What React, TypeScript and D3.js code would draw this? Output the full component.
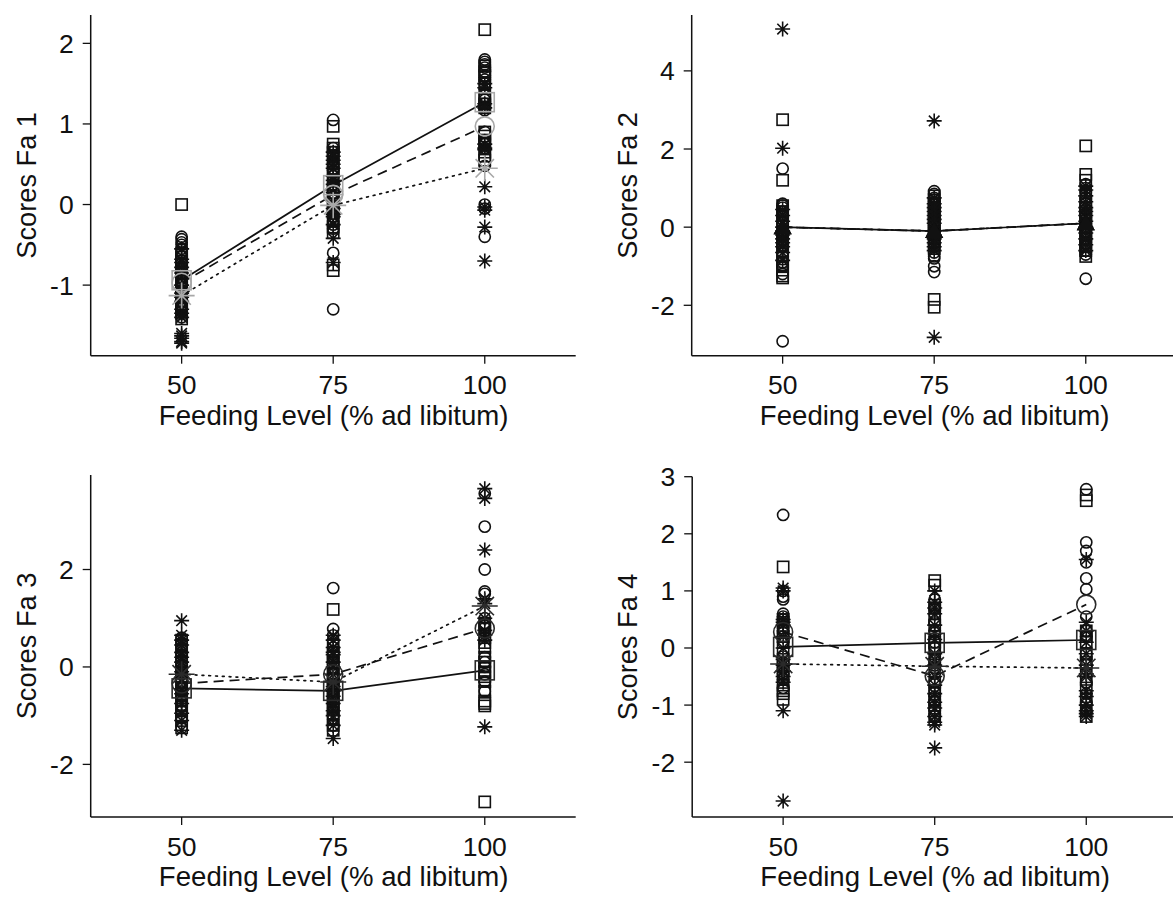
import React from "react";
import * as d3 from "d3";

// Feeding levels (% ad libitum) on the x axis
const levels = [50, 75, 100];
const xTicks = [50, 75, 100];
const xDomain = [35, 115];

// Factor 1 scores per group, one array per feeding level
const fa1Squares = [
  [0.0, -0.6, -0.65, -0.7, -0.75, -0.8, -0.85, -0.9, -0.95, -1.0, -1.05, -1.1, -1.15, -1.2, -1.25, -1.3, -1.35, -1.42],
  [0.97, 0.75, 0.7, 0.65, 0.6, 0.5, 0.45, 0.4, 0.3, 0.2, 0.15, 0.1, 0.0, -0.05, -0.1, -0.2, -0.28, -0.35, -0.75, -0.82],
  [2.17, 1.72, 1.65, 1.6, 1.5, 1.35, 1.3, 1.25, 1.2, 0.9, 0.85, 0.8, 0.75, 0.65, 0.6, 0.55],
];
const fa1Circles = [
  [-0.4, -0.43, -0.47, -0.5, -0.55, -0.6, -0.65, -0.72, -0.8, -0.85, -0.9, -1.0, -1.08, -1.15, -1.2, -1.28, -1.33, -1.4],
  [1.05, 0.7, 0.65, 0.6, 0.55, 0.5, 0.42, 0.35, 0.25, 0.1, 0.05, -0.05, -0.1, -0.15, -0.2, -0.25, -0.3, -0.6, -1.3],
  [1.8, 1.77, 1.74, 1.7, 1.65, 1.6, 1.55, 1.5, 1.45, 1.3, 1.25, 1.2, 1.17, 0.9, 0.8, 0.75, 0.7, 0.48, 0.0, -0.05, -0.4],
];
const fa1Stars = [
  [-0.55, -0.68, -0.72, -0.78, -0.85, -0.9, -1.0, -1.05, -1.1, -1.15, -1.2, -1.3, -1.35, -1.4, -1.6, -1.63, -1.66, -1.7, -1.72],
  [0.65, 0.6, 0.55, 0.5, 0.45, 0.35, 0.3, 0.25, 0.15, 0.05, -0.05, -0.12, -0.15, -0.25, -0.42, -0.72],
  [1.5, 1.45, 1.25, 1.2, 0.75, 0.7, 0.68, 0.22, -0.03, -0.07, -0.28, -0.7],
];
const fa1SquareMeans = [-0.94, 0.24, 1.27];
const fa1CircleMeans = [-0.97, 0.12, 0.97];
const fa1StarMeans = [-1.13, -0.01, 0.45];
const fa1Ticks = [-1, 0, 1, 2];
const fa1Domain = [-1.876, 2.352];

// Factor 2 scores
const fa2Squares = [
  [2.75, 1.2, 0.55, 0.4, 0.3, 0.1, 0.0, -0.2, -0.3, -0.4, -0.5, -0.6, -0.75, -0.9, -1.0, -1.1, -1.25, -1.3],
  [0.8, 0.7, 0.6, 0.5, 0.4, 0.3, 0.2, 0.1, 0.0, -0.1, -0.2, -0.3, -0.45, -0.55, -1.85, -2.05],
  [2.08, 1.35, 1.2, 0.8, 0.6, 0.5, 0.4, 0.3, 0.2, 0.1, 0.0, -0.1, -0.2, -0.3, -0.4, -0.5, -0.6, -0.75],
];
const fa2Circles = [
  [1.5, 0.6, 0.55, 0.5, 0.4, 0.3, 0.2, 0.1, -0.1, -0.2, -0.35, -0.5, -0.65, -0.75, -0.9, -1.0, -1.2, -2.92],
  [0.92, 0.85, 0.75, 0.7, 0.6, 0.5, 0.4, 0.3, 0.2, 0.1, 0.0, -0.1, -0.2, -0.3, -0.4, -0.5, -0.65, -0.75, -0.8, -1.0, -1.15],
  [1.1, 1.0, 0.9, 0.75, 0.6, 0.45, 0.3, 0.2, 0.1, 0.0, -0.1, -0.2, -0.3, -0.4, -0.5, -0.6, -0.7, -1.32],
];
const fa2Stars = [
  [5.07, 2.02, 0.45, 0.3, 0.15, 0.0, -0.1, -0.2, -0.3, -0.4, -0.5, -0.65, -0.85],
  [2.72, 0.75, 0.6, 0.5, 0.4, 0.3, 0.2, 0.1, -0.1, -0.2, -0.3, -0.4, -0.5, -0.6, -2.82],
  [1.05, 0.95, 0.8, 0.65, 0.5, 0.4, 0.3, 0.15, 0.0, -0.15, -0.3, -0.45, -0.6],
];
const fa2SquareMeans = [0.0, -0.1, 0.1];
const fa2CircleMeans = [0.0, -0.1, 0.1];
const fa2StarMeans = [0.0, -0.1, 0.1];
const fa2Ticks = [-2, 0, 2, 4];
const fa2Domain = [-3.29, 5.43];

// Factor 3 scores
const fa3Squares = [
  [0.55, 0.45, 0.35, 0.2, 0.1, 0.0, -0.1, -0.2, -0.3, -0.45, -0.55, -0.6, -0.7, -0.8, -0.9, -1.0, -1.1, -1.25],
  [1.18, 0.45, 0.3, 0.2, 0.1, 0.0, -0.15, -0.25, -0.35, -0.45, -0.55, -0.65, -0.75, -0.85, -0.95, -1.05, -1.2, -1.3],
  [0.9, 0.8, 0.6, 0.5, 0.4, 0.2, 0.1, 0.0, -0.1, -0.2, -0.3, -0.5, -0.7, -0.75, -0.8, -2.77],
];
const fa3Circles = [
  [0.6, 0.5, 0.4, 0.25, 0.15, 0.05, -0.05, -0.15, -0.3, -0.4, -0.5, -0.6, -0.7, -0.8, -0.9, -1.05, -1.25],
  [1.62, 0.78, 0.65, 0.55, 0.4, 0.3, 0.15, 0.05, -0.05, -0.15, -0.25, -0.35, -0.5, -0.6, -0.7, -0.8, -0.9, -1.0, -1.2],
  [3.56, 2.88, 2.0, 1.55, 1.5, 1.0, 0.9, 0.85, 0.8, 0.2, 0.1, 0.0, -0.15, -0.3, -0.5],
];
const fa3Stars = [
  [0.95, 0.65, 0.55, 0.45, 0.3, 0.2, 0.1, -0.1, -0.3, -0.45, -0.55, -0.75, -0.95, -1.1, -1.3],
  [0.65, 0.55, 0.4, 0.3, 0.25, 0.1, 0.0, -0.15, -0.3, -0.4, -0.5, -0.6, -0.75, -0.9, -1.0, -1.2, -1.47],
  [3.66, 3.46, 2.4, 1.4, 1.3, 1.0, 0.75, 0.65, 0.55, -1.23],
];
const fa3SquareMeans = [-0.44, -0.49, -0.07];
const fa3CircleMeans = [-0.34, -0.15, 0.79];
const fa3StarMeans = [-0.15, -0.31, 1.25];
const fa3Ticks = [-2, 0, 2];
const fa3Domain = [-3.08, 3.94];

// Factor 4 scores
const fa4Squares = [
  [1.42, 0.5, 0.45, 0.35, 0.2, 0.1, -0.1, -0.2, -0.3, -0.4, -0.5, -0.65, -0.75, -0.8, -0.9],
  [1.18, 1.1, 0.75, 0.7, 0.5, 0.4, 0.2, 0.1, 0.0, -0.2, -0.3, -0.6, -0.75, -0.9, -1.0, -1.1, -1.25],
  [2.68, 2.58, 0.3, 0.2, 0.1, -0.1, -0.25, -0.4, -0.55, -0.7, -0.9, -1.05, -1.2],
];
const fa4Circles = [
  [2.33, 1.0, 0.9, 0.85, 0.6, 0.55, 0.5, 0.3, 0.2, 0.1, -0.15, -0.25, -0.35, -0.45, -0.55, -0.7],
  [0.85, 0.7, 0.6, 0.45, 0.3, 0.1, 0.0, -0.2, -0.35, -0.45, -0.6, -0.75, -0.85, -0.95, -1.1, -1.2],
  [2.78, 1.85, 1.7, 1.5, 1.22, 1.03, 0.55, 0.3, 0.2, -0.1, -0.3, -0.6, -0.8, -0.95, -1.1],
];
const fa4Stars = [
  [1.05, 1.0, 0.5, 0.45, 0.4, 0.2, 0.0, -0.2, -0.3, -0.4, -0.5, -0.6, -1.1, -2.68],
  [1.0, 0.8, 0.7, 0.6, 0.4, 0.25, 0.15, -0.1, -0.2, -0.3, -0.5, -0.65, -0.8, -0.95, -1.05, -1.2, -1.3, -1.35, -1.75],
  [1.55, 0.45, 0.3, 0.1, -0.1, -0.3, -0.45, -0.5, -0.75, -0.85, -1.0, -1.1, -1.15, -1.2],
];
const fa4SquareMeans = [0.02, 0.09, 0.14];
const fa4CircleMeans = [0.28, -0.49, 0.76];
const fa4StarMeans = [-0.28, -0.32, -0.35];
const fa4Ticks = [-2, -1, 0, 1, 2, 3];
const fa4Domain = [-2.96, 3.0];

type MeanStyle = "gray" | "triangle" | "black";
type Kind = "square" | "circle" | "star";

interface PanelSpec {
  label: string;
  ticks: number[];
  domain: number[];
  squares: number[][];
  circles: number[][];
  stars: number[][];
  squareMeans: number[];
  circleMeans: number[];
  starMeans: number[];
  meanStyle: MeanStyle;
  left: number;
  top: number;
  bottom: number;
}

const panels: PanelSpec[] = [
  {
    label: "Scores Fa 1", ticks: fa1Ticks, domain: fa1Domain,
    squares: fa1Squares, circles: fa1Circles, stars: fa1Stars,
    squareMeans: fa1SquareMeans, circleMeans: fa1CircleMeans, starMeans: fa1StarMeans,
    meanStyle: "gray", left: 90.7, top: 15, bottom: 355.7,
  },
  {
    label: "Scores Fa 2", ticks: fa2Ticks, domain: fa2Domain,
    squares: fa2Squares, circles: fa2Circles, stars: fa2Stars,
    squareMeans: fa2SquareMeans, circleMeans: fa2CircleMeans, starMeans: fa2StarMeans,
    meanStyle: "triangle", left: 691.7, top: 15, bottom: 355.7,
  },
  {
    label: "Scores Fa 3", ticks: fa3Ticks, domain: fa3Domain,
    squares: fa3Squares, circles: fa3Circles, stars: fa3Stars,
    squareMeans: fa3SquareMeans, circleMeans: fa3CircleMeans, starMeans: fa3StarMeans,
    meanStyle: "black", left: 90.7, top: 475, bottom: 817,
  },
  {
    label: "Scores Fa 4", ticks: fa4Ticks, domain: fa4Domain,
    squares: fa4Squares, circles: fa4Circles, stars: fa4Stars,
    squareMeans: fa4SquareMeans, circleMeans: fa4CircleMeans, starMeans: fa4StarMeans,
    meanStyle: "black", left: 692.2, top: 476.7, bottom: 817,
  },
];

const PLOT_WIDTH = 485;
const FONT = "'Liberation Sans', Arial, Helvetica, sans-serif";
const INK = "#111";

function starPath(r: number): string {
  const d = r * 0.7071;
  return `M${-r},0L${r},0M0,${-r}L0,${r}M${-d},${-d}L${d},${d}M${-d},${d}L${d},${-d}`;
}

function Marker({ kind, x, y, big, color, strokeWidth }: {
  kind: Kind; x: number; y: number; big?: boolean; color: string; strokeWidth: number;
}) {
  if (kind === "square") {
    const h = big ? 9.5 : 5.6;
    return <rect x={x - h} y={y - h} width={2 * h} height={2 * h} fill="none" stroke={color} strokeWidth={strokeWidth} />;
  }
  if (kind === "circle") {
    const r = big ? 9.5 : 5.6;
    return <circle cx={x} cy={y} r={r} fill="none" stroke={color} strokeWidth={strokeWidth} />;
  }
  return <path d={starPath(big ? 13 : 7.5)} transform={`translate(${x},${y})`} fill="none" stroke={color} strokeWidth={strokeWidth} />;
}

function Panel({ p }: { p: PanelSpec }) {
  const x = d3.scaleLinear().domain(xDomain).range([p.left, p.left + PLOT_WIDTH]);
  const y = d3.scaleLinear().domain(p.domain).range([p.bottom, p.top]);
  const line = d3.line<[number, number]>().x((d) => x(d[0])).y((d) => y(d[1]));
  const series = (means: number[]) => levels.map((lv, i) => [lv, means[i]] as [number, number]);

  const groups: { kind: Kind; data: number[][] }[] = [
    { kind: "square", data: p.squares },
    { kind: "circle", data: p.circles },
    { kind: "star", data: p.stars },
  ];
  const meanGroups: { kind: Kind; means: number[]; dash: string | undefined }[] = [
    { kind: "square", means: p.squareMeans, dash: undefined },
    { kind: "circle", means: p.circleMeans, dash: "10,6" },
    { kind: "star", means: p.starMeans, dash: "1.8,5" },
  ];
  const midY = (p.top + p.bottom) / 2;
  const axisEnd = Math.min(p.left + PLOT_WIDTH, 1173);

  return (
    <g>
      {/* individual scores */}
      {groups.map((g) =>
        g.data.map((vals, li) =>
          vals.map((v, k) => (
            <Marker key={`${g.kind}-${li}-${k}`} kind={g.kind} x={x(levels[li])} y={y(v)} color={INK} strokeWidth={1.6} />
          ))
        )
      )}
      {/* group means joined across feeding levels */}
      {meanGroups.map((m) => (
        <path key={`l-${m.kind}`} d={line(series(m.means)) || ""} fill="none" stroke={INK} strokeWidth={1.7}
          strokeDasharray={m.dash} strokeLinecap={m.kind === "star" ? "round" : "butt"} />
      ))}
      {meanGroups.map((m) =>
        m.means.map((v, i) => {
          const cx = x(levels[i]);
          const cy = y(v);
          if (p.meanStyle === "triangle") {
            return <path key={`t-${m.kind}-${i}`} d="M0,-9L9,7L-9,7Z" transform={`translate(${cx},${cy})`} fill={INK} />;
          }
          const color = p.meanStyle === "gray" ? "#a8a8a8" : "#2a2a2a";
          return <Marker key={`m-${m.kind}-${i}`} kind={m.kind} x={cx} y={cy} big color={color} strokeWidth={1.6} />;
        })
      )}
      {/* axes */}
      <line x1={p.left} x2={p.left} y1={p.top} y2={p.bottom} stroke={INK} strokeWidth={1.5} />
      <line x1={p.left} x2={axisEnd} y1={p.bottom} y2={p.bottom} stroke={INK} strokeWidth={1.5} />
      {p.ticks.map((t) => (
        <g key={`yt-${t}`}>
          <line x1={p.left - 8} x2={p.left} y1={y(t)} y2={y(t)} stroke={INK} strokeWidth={1.3} />
          <text x={p.left - 17} y={y(t) + 9.5} textAnchor="end" fontSize={26.5} fontFamily={FONT} fill={INK}>{t}</text>
        </g>
      ))}
      {xTicks.map((t) => (
        <g key={`xt-${t}`}>
          <line x1={x(t)} x2={x(t)} y1={p.bottom} y2={p.bottom + 8} stroke={INK} strokeWidth={1.3} />
          <text x={x(t)} y={p.bottom + 38.5} textAnchor="middle" fontSize={26.5} fontFamily={FONT} fill={INK}>{t}</text>
        </g>
      ))}
      <text x={p.left + 243} y={p.bottom + 69} textAnchor="middle" fontSize={27.6} fontFamily={FONT} fill={INK}>
        Feeding Level (% ad libitum)
      </text>
      <text transform={`translate(${p.left - 55},${midY}) rotate(-90)`} textAnchor="middle" fontSize={27.2} fontFamily={FONT} fill={INK}>
        {p.label}
      </text>
    </g>
  );
}

export default function App() {
  return (
    <div style={{ position: "absolute", left: 0, top: 0 }}>
      <svg width={1173} height={897} viewBox="0 0 1173 897" style={{ display: "block", background: "#fff" }}>
        <rect width={1173} height={897} fill="#fff" />
        {panels.map((p) => (
          <Panel key={p.label} p={p} />
        ))}
      </svg>
    </div>
  );
}
